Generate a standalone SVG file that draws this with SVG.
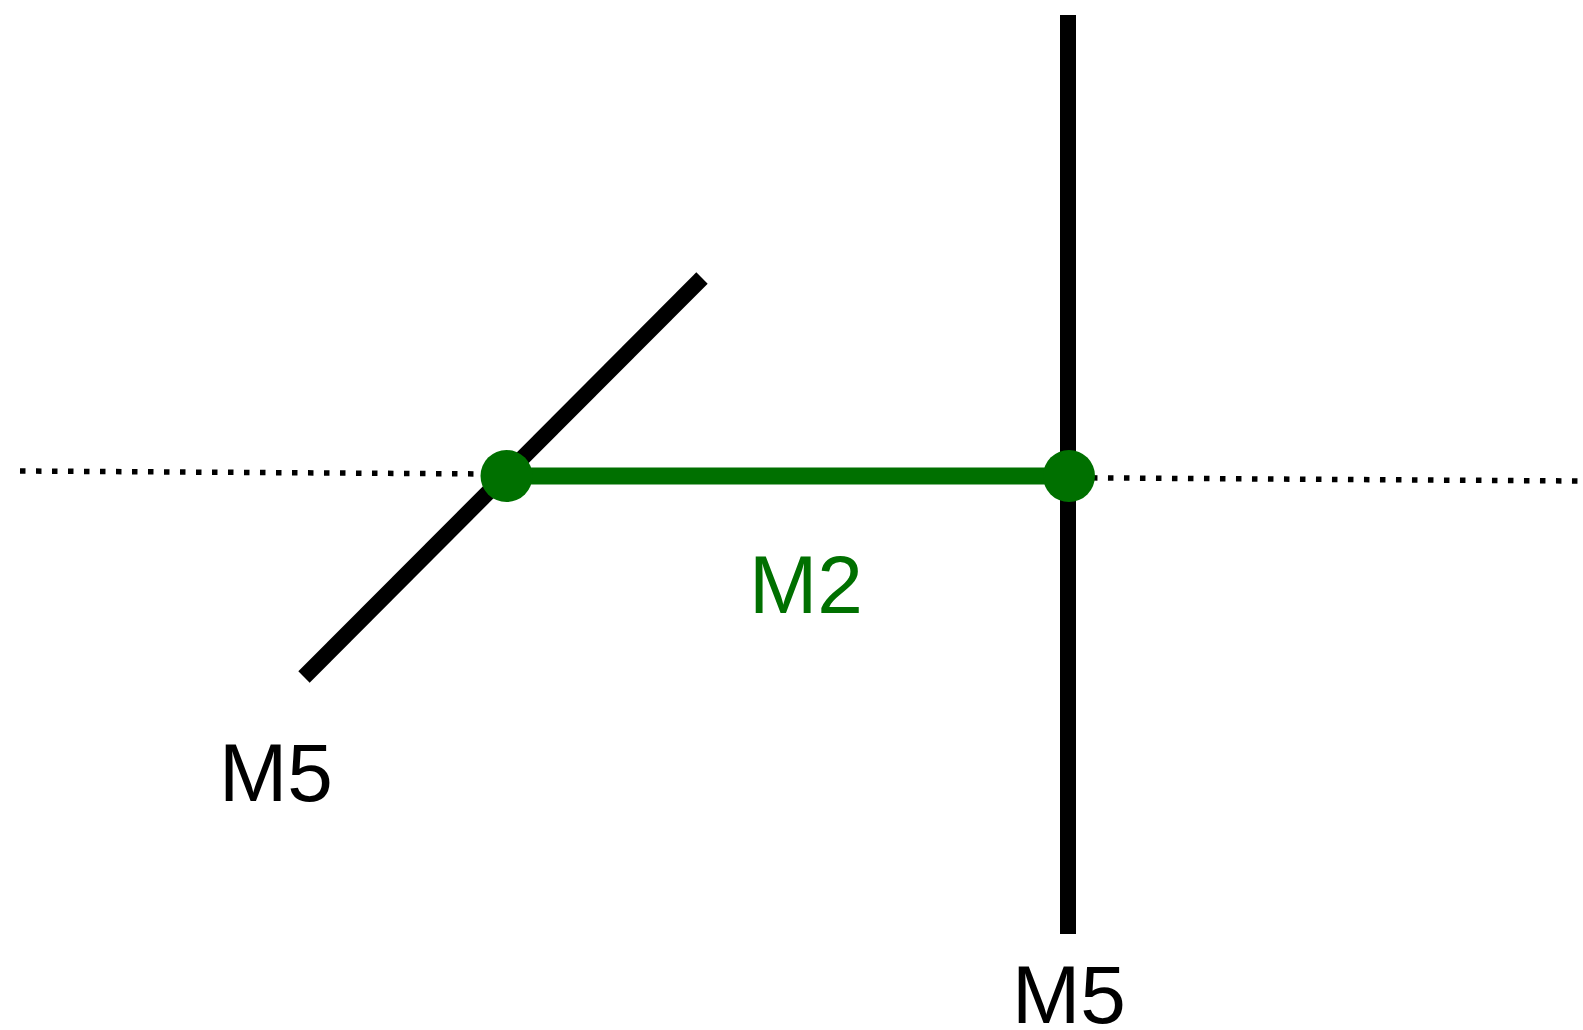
<svg xmlns="http://www.w3.org/2000/svg" width="1583" height="1030" viewBox="0 0 1583 1030">
<style>
.bar{stroke:#000;stroke-width:16;stroke-linecap:butt;fill:none}
.dot{stroke:#000;stroke-width:5.5;stroke-dasharray:5.5 10.5;fill:none}
.g{stroke:#007000;stroke-width:17;fill:none}
.node{fill:#007000}
.lbl{font-family:"Liberation Sans",Arial,sans-serif;font-size:82px}
</style>
<rect width="1583" height="1030" fill="#fff"/>
<g id="connectors">
<line class="dot" x1="20" y1="471" x2="1580" y2="481"/>
<line class="bar" x1="304" y1="677" x2="702" y2="278"/>
<line class="bar" x1="1068" y1="15" x2="1068" y2="934"/>
<line class="g" x1="506" y1="476" x2="1069" y2="476"/>
</g>
<g id="node-left"><circle class="node" cx="506.5" cy="476" r="26"/></g>
<g id="node-right"><circle class="node" cx="1069" cy="476" r="26"/></g>
<g id="label-m5-left"><text class="lbl" x="219" y="801" fill="#000">M5</text></g>
<g id="label-m5-bottom"><text class="lbl" x="1012" y="1023" fill="#000">M5</text></g>
<g id="label-m2"><text class="lbl" x="749" y="613" fill="#007000">M2</text></g>
</svg>
